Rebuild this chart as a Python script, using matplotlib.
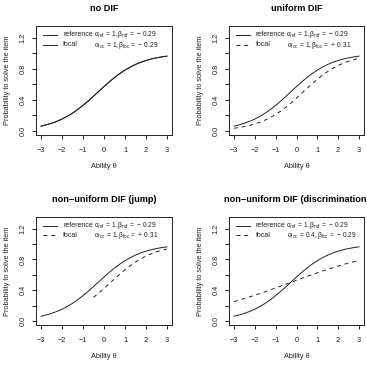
import matplotlib
matplotlib.use("Agg")
import matplotlib.pyplot as plt

plt.rcParams["font.family"] = ["Liberation Sans", "DejaVu Sans"]
plt.rcParams["mathtext.fontset"] = "custom"
plt.rcParams["mathtext.rm"] = "Liberation Sans"
plt.rcParams["mathtext.it"] = "Liberation Sans"

# ability grid and probabilities
theta = [-3.0, -2.75, -2.5, -2.25, -2.0, -1.75, -1.5, -1.25, -1.0, -0.75, -0.5, -0.25,
         0.0, 0.25, 0.5, 0.75, 1.0, 1.25, 1.5, 1.75, 2.0, 2.25, 2.5, 2.75, 3.0]
p_reference = [0.062, 0.079, 0.099, 0.124, 0.153, 0.189, 0.230, 0.277, 0.330, 0.387, 0.448, 0.510,
               0.572, 0.632, 0.688, 0.739, 0.784, 0.823, 0.857, 0.885, 0.908, 0.927, 0.942, 0.954, 0.964]
p_focal_uniform = [0.035, 0.045, 0.057, 0.072, 0.090, 0.113, 0.141, 0.174, 0.213, 0.257, 0.308, 0.364,
                   0.423, 0.485, 0.547, 0.608, 0.666, 0.719, 0.767, 0.809, 0.844, 0.874, 0.899, 0.920, 0.936]
theta_jump = [-0.5, -0.25, 0.0, 0.25, 0.5, 0.75, 1.0, 1.25, 1.5, 1.75, 2.0, 2.25, 2.5, 2.75, 3.0]
p_focal_jump = [0.308, 0.364, 0.423, 0.485, 0.547, 0.608, 0.666, 0.719, 0.767, 0.809, 0.844, 0.874,
                0.899, 0.920, 0.936]
p_focal_disc = [0.253, 0.272, 0.292, 0.314, 0.335, 0.358, 0.381, 0.405, 0.430, 0.454, 0.479, 0.504,
                0.529, 0.554, 0.578, 0.603, 0.626, 0.649, 0.672, 0.693, 0.714, 0.734, 0.753, 0.771, 0.789]

titles = ["no DIF", "uniform DIF", "non\u2212uniform DIF (jump)", "non\u2212uniform DIF (discrimination)"]
ref_params = r"$\alpha_{ref}\,=\,1,\beta_{ref}\,=\,-\,0.29$"
focal_params = [r"$\alpha_{foc}\,=\,1,\beta_{foc}\,=\,-\,0.29$",
                r"$\alpha_{foc}\,=\,1,\beta_{foc}\,=\,+\,0.31$",
                r"$\alpha_{foc}\,=\,1,\beta_{foc}\,=\,+\,0.31$",
                r"$\alpha_{foc}\,=\,0.4,\beta_{foc}\,=\,-\,0.29$"]
focal_x = [theta, theta, theta_jump, theta]
focal_y = [p_reference, p_focal_uniform, p_focal_jump, p_focal_disc]
focal_style = ["-", (0, (4, 4)), (0, (4, 4)), (0, (4, 4))]

fig = plt.figure(figsize=(3.67, 3.67), dpi=100)
W = 367.0
rects = [(36, 26, 172, 135), (229, 26, 364, 135), (36, 217, 172, 325), (229, 217, 364, 325)]

fs = 5.3
lw = 0.7
col = "#222222"
for i, (x0, y0, x1, y1) in enumerate(rects):
    ax = fig.add_axes([x0 / W, 1 - y1 / W, (x1 - x0) / W, (y1 - y0) / W])
    ax.plot(theta, p_reference, color=col, lw=lw)
    ax.plot(focal_x[i], focal_y[i], color=col, lw=lw, linestyle=focal_style[i])
    ax.set_xlim(-3.24, 3.24)
    ax.set_ylim(-0.052, 1.352)
    ax.set_xticks([-3, -2, -1, 0, 1, 2, 3])
    ax.set_xticklabels(["\u22123", "\u22122", "\u22121", "0", "1", "2", "3"])
    ax.set_yticks([0, 0.2, 0.4, 0.6, 0.8, 1.0, 1.2])
    ax.set_yticklabels(["0.0", "", "0.4", "", "0.8", "", "1.2"], rotation=90, va="center")
    ax.tick_params(labelsize=fs, length=3, width=lw, pad=4, color=col, labelcolor=col)
    ax.tick_params(axis="x", pad=6)
    for s in ax.spines.values():
        s.set_linewidth(lw)
        s.set_color(col)
    ax.set_xlabel("Ability \u03b8", fontsize=fs, labelpad=6, color=col)
    ax.set_ylabel("Probability to solve the item", fontsize=fs, labelpad=6, color=col)
    ax.set_title(titles[i], fontsize=6.6, fontweight="bold", pad=11)

    # legend without frame
    ax.plot([0.05, 0.155], [0.92, 0.92], transform=ax.transAxes, color=col, lw=lw)
    ax.plot([0.05, 0.155], [0.83, 0.83], transform=ax.transAxes, color=col, lw=lw,
            linestyle=focal_style[i])
    ax.text(0.2, 0.92, "reference", transform=ax.transAxes, fontsize=5, va="center", color=col)
    ax.text(0.2, 0.83, "focal", transform=ax.transAxes, fontsize=5, va="center", color=col)
    ax.text(0.425, 0.925, ref_params, transform=ax.transAxes, fontsize=4.8, va="center", color=col)
    ax.text(0.43, 0.825, focal_params[i], transform=ax.transAxes, fontsize=4.8, va="center", color=col)

fig.savefig("out.png", dpi=100)
